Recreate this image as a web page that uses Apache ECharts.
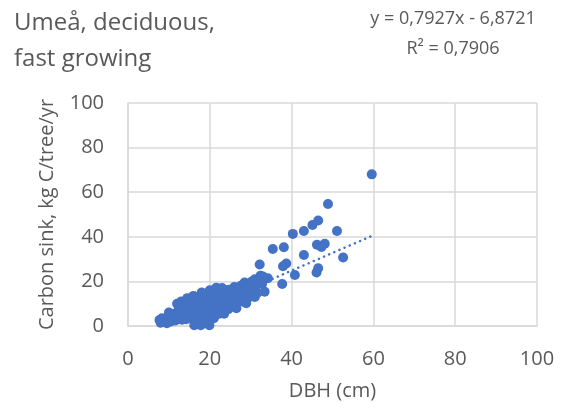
<!DOCTYPE html>
<html>
<head>
<meta charset="utf-8">
<script src="https://cdn.jsdelivr.net/npm/echarts@6/dist/echarts.min.js"></script>
<style>
  html, body { margin: 0; padding: 0; background: #fff; }
  #chart { width: 562px; height: 411px; }
</style>
</head>
<body>
<div id="chart"></div>
<script>
// DBH (cm) and carbon sink (kg C/tree/yr)
var dbh = [
  59.6, 48.9, 46.5, 45.1, 43.0, 40.3, 51.1, 46.2, 48.1, 47.3,
  52.6, 43.0, 38.1, 35.4, 46.5, 46.1, 38.7, 37.9, 40.8, 32.2,
  37.7, 34.2, 33.0, 33.4, 31.0,
  7.7, 8.0, 8.3, 8.6, 9.0, 9.5, 9.8, 10.2, 10.5, 10.8,
  11.0, 11.3, 11.6, 12.0, 12.2, 12.5, 12.8, 13.0, 13.2, 13.5,
  13.8, 14.0, 14.2, 14.5, 14.8, 15.0, 15.2, 15.5, 15.8, 16.0,
  16.2, 16.3, 16.6, 16.8, 17.0, 17.2, 17.5, 17.5, 17.8, 17.8,
  18.2, 18.4, 18.6, 18.8, 19.0, 19.2, 19.5, 19.9, 19.9, 20.0,
  20.2, 20.5, 20.8, 21.0, 21.2, 21.6, 21.8, 22.0, 22.3, 22.5,
  22.8, 23.0, 23.2, 23.5, 23.8, 24.0, 24.3, 24.5, 24.8, 25.0,
  25.2, 25.5, 25.8, 26.0, 26.3, 26.5, 26.8, 27.0, 27.3, 27.6,
  28.0, 28.2, 28.5, 28.8, 29.0, 29.3, 29.6, 30.0, 30.3, 30.6,
  31.0, 31.3, 31.6, 32.0, 32.4, 32.8, 33.2, 24.8, 28.9, 22.0,
  19.0, 15.5, 10.0, 12.5, 26.5, 23.5, 20.8, 12.0, 13.0, 14.5,
  16.0, 18.0, 20.0, 23.0
];
var sink = [
  68.0, 54.7, 47.3, 45.3, 42.6, 41.3, 42.6, 36.4, 36.9, 35.4,
  30.7, 31.8, 35.3, 34.5, 25.9, 24.0, 28.0, 26.8, 22.9, 27.6,
  18.8, 21.4, 22.2, 15.4, 13.0,
  2.7, 1.5, 3.5, 2.0, 3.0, 1.2, 2.5, 3.8, 2.0, 4.5,
  3.0, 5.5, 2.5, 4.0, 6.5, 3.5, 5.0, 7.5, 2.8, 6.0,
  4.2, 8.5, 3.0, 6.8, 5.0, 9.5, 3.5, 7.2, 11.0, 5.5,
  0.3, 8.5, 2.8, 12.5, 6.5, 10.0, 13.2, 4.0, 8.0, 0.3,
  11.5, 5.5, 9.0, 3.0, 12.0, 7.0, 10.5, 0.3, 4.5, 8.5,
  12.8, 6.0, 10.0, 3.5, 14.0, 17.2, 8.0, 11.5, 5.5, 13.5,
  9.5, 7.0, 15.0, 11.0, 8.5, 13.0, 16.0, 7.5, 10.5, 14.5,
  8.8, 16.5, 12.0, 17.5, 10.0, 14.0, 11.5, 16.8, 13.0, 18.0,
  11.0, 15.5, 19.5, 13.5, 17.0, 12.5, 19.0, 15.5, 20.0, 17.0,
  21.0, 18.0, 14.8, 20.5, 22.5, 19.0, 21.0, 16.2, 10.2, 16.0,
  14.5, 12.0, 6.0, 8.5, 8.0, 5.5, 4.0, 10.0, 11.0, 12.5,
  13.5, 15.0, 16.0, 17.0
];
var slope = 0.7927;
var intercept = -6.8721;
var axisTicks = [0, 20, 40, 60, 80, 100];

var points = dbh.map(function (x, i) { return [x, sink[i]]; });
var xMin = Math.min.apply(null, dbh);
var xMax = Math.max.apply(null, dbh);
var trend = [[xMin, slope * xMin + intercept], [xMax, slope * xMax + intercept]];

var chart = echarts.init(document.getElementById('chart'));
var grey = '#595959';
var font = 'Open Sans';

chart.setOption({
  animation: false,
  textStyle: { fontFamily: font },
  grid: { left: 128, right: 25, top: 103, bottom: 85 },
  graphic: [
    {
      type: 'text', left: 14, top: 5,
      style: {
        text: 'Umeå, deciduous,\nfast growing',
        font: '24px "Open Sans"', fill: grey, lineHeight: 36
      }
    },
    {
      type: 'text', x: 453, y: 4,
      style: {
        text: 'y = 0,7927x - 6,8721\nR² = 0,7906',
        font: '18px "Open Sans"', fill: grey, lineHeight: 30, align: 'center'
      }
    }
  ],
  xAxis: {
    type: 'value', min: axisTicks[0], max: axisTicks[axisTicks.length - 1], interval: 20,
    name: 'DBH (cm)', nameLocation: 'middle', nameGap: 55,
    nameTextStyle: { color: grey, fontSize: 20 },
    axisLine: { show: true, lineStyle: { color: '#D9D9D9', width: 1.5 } },
    axisTick: { show: false },
    axisLabel: { color: grey, fontSize: 20, margin: 23 },
    splitLine: { lineStyle: { color: '#D9D9D9', width: 1.5 } }
  },
  yAxis: {
    type: 'value', min: axisTicks[0], max: axisTicks[axisTicks.length - 1], interval: 20,
    name: 'Carbon sink, kg C/tree/yr', nameLocation: 'middle', nameGap: 71,
    nameTextStyle: { color: grey, fontSize: 20 },
    axisLine: { show: true, lineStyle: { color: '#D9D9D9', width: 1.5 } },
    axisTick: { show: false },
    axisLabel: { color: grey, fontSize: 20, margin: 24 },
    splitLine: { lineStyle: { color: '#D9D9D9', width: 1.5 } }
  },
  series: [
    {
      type: 'scatter', data: points, symbolSize: 10,
      itemStyle: { color: '#4472C4', opacity: 1 }
    },
    {
      type: 'line', data: trend, symbol: 'none', z: 3,
      lineStyle: { color: '#4472C4', width: 2.5, type: [0.1, 5.5], cap: 'round' }
    }
  ]
});
</script>
</body>
</html>
